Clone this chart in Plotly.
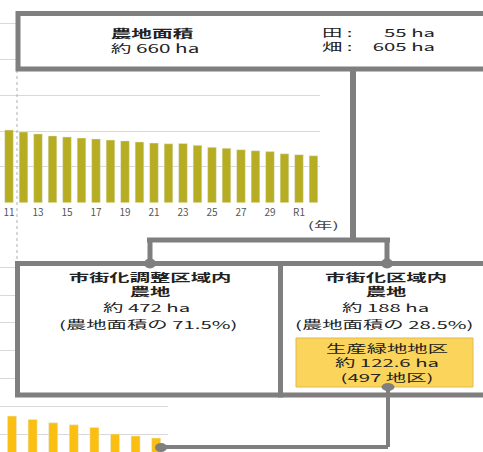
import plotly.graph_objects as go

W, H = 483, 452

# ---------------- data ----------------
years = [str(y) for y in range(10, 31)] + ["R1", "R2"]
farmland_ha = [817, 806, 795, 784, 773, 767, 761, 756, 750, 745, 739, 733,
               729, 731, 720, 709, 704, 696, 690, 685, 673, 668, 662]
year_ticks = ["11", "13", "15", "17", "19", "21", "23", "25", "27", "29", "R1"]

green_years = ["H25", "H26", "H27", "H28", "H29", "H30", "R1", "R2"]
green_ha = [132.9, 130.5, 128.1, 126.6, 124.7, 120.0, 118.6, 117.1]

top_title = "農地面積"
top_total = "約 660 ha"
crop_labels = ["田 :", "畑 :"]
crop_values = ["55 ha", "605 ha"]
left_title = ["市街化調整区域内", "農地"]
left_lines = ["約 472 ha", "(農地面積の 71.5%)"]
right_title = ["市街化区域内", "農地"]
right_lines = ["約 188 ha", "(農地面積の 28.5%)"]
green_lines = ["生産緑地地区", "約 122.6 ha", "(497 地区)"]
year_unit = "(年)"

# ---------------- helpers ----------------
def X(px):
    return px / W

def Y(py):
    return 1 - py / H

GRAY = "#7f7f7f"
FONT = "Noto Sans CJK JP"

fig = go.Figure()
fig.add_trace(go.Bar(x=years, y=farmland_ha, marker_color="#b7ad22",
                     width=0.6, xaxis="x", yaxis="y", showlegend=False))
fig.add_trace(go.Bar(x=green_years, y=green_ha, marker_color="#fbbf12",
                     width=0.44, xaxis="x2", yaxis="y2", showlegend=False))

shapes = []

def line(x0, y0, x1, y1, w=5, color=GRAY, dash="solid"):
    shapes.append(dict(type="line", xref="paper", yref="paper",
                       x0=X(x0), y0=Y(y0), x1=X(x1), y1=Y(y1),
                       line=dict(color=color, width=w, dash=dash)))

def rect(x0, y0, x1, y1, w=5, color=GRAY, fill="white"):
    shapes.append(dict(type="rect", xref="paper", yref="paper",
                       x0=X(x0), y0=Y(y0), x1=X(x1), y1=Y(y1),
                       line=dict(color=color, width=w), fillcolor=fill))

def dot(cx, cy, rx=6, ry=5):
    shapes.append(dict(type="circle", xref="paper", yref="paper",
                       x0=X(cx - rx), y0=Y(cy + ry), x1=X(cx + rx), y1=Y(cy - ry),
                       line=dict(color=GRAY, width=0), fillcolor=GRAY))

# dotted guide
line(17, 70, 17, 262, w=1, color="#b0b0b0", dash="dot")
# top box
rect(18, 13.5, 500, 69)
# connectors
line(353, 69, 353, 240, w=6)
line(147, 240, 390, 240, w=5)
line(150, 240, 150, 263)
line(387, 240, 387, 263)
# lower boxes
rect(17.5, 263.5, 280.5, 395)
rect(280.5, 263.5, 500, 395)
dot(150, 263.5)
dot(387, 263.5)
# yellow box
rect(296, 338, 473, 387, w=1, color="#e2b94c", fill="#fbd55b")
line(388, 387, 388, 447, w=4)
line(388, 447, 160, 447, w=4)
dot(388, 387, 6.5, 4)
dot(161, 447.5, 6, 4.5)

annotations = []

def txt(s, cx, cy, size=11, align="center", color="#222222"):
    annotations.append(dict(text=s, x=X(cx), y=Y(cy), xref="paper", yref="paper",
                            xanchor="center", yanchor="middle", showarrow=False,
                            align=align, borderpad=0,
                            font=dict(family=FONT, size=size, color=color)))

txt("<b>%s</b><br>%s" % (top_title, top_total), 155, 40, size=11.2, align="left")
txt("<br>".join(crop_labels), 337, 39, size=11)
txt("<br>".join(crop_values), 404, 39, size=11, align="right")

txt("<br>".join("<b>%s</b>" % s for s in left_title), 150, 284)
txt(left_lines[0], 146, 306.5)
txt(left_lines[1], 147.5, 324)

txt("<br>".join("<b>%s</b>" % s for s in right_title), 386, 284)
txt(right_lines[0], 385, 306.5)
txt(right_lines[1], 384, 324)

txt("<br>".join(green_lines), 387, 362.5)

txt(year_unit, 323, 224, size=10, color="#444444")

fig.update_layout(
    width=W, height=H,
    margin=dict(l=0, r=0, t=0, b=0),
    paper_bgcolor="white", plot_bgcolor="white",
    showlegend=False,
    shapes=shapes,
    annotations=annotations,
    xaxis=dict(domain=[0, 320 / W], type="category", range=[0.379, 22.45],
               tickmode="array", tickvals=year_ticks, ticktext=year_ticks,
               showgrid=False, showline=False, zeroline=False, ticks="",
               ticklabelstandoff=2,
               tickfont=dict(family=FONT, size=10, color="#555555"),
               anchor="y", fixedrange=True),
    yaxis=dict(domain=[Y(202.5), Y(10)], range=[400, 1478], tick0=400, dtick=200,
               showticklabels=False, gridcolor="#d9d9d9", gridwidth=1,
               zeroline=False, showline=False, anchor="x"),
    xaxis2=dict(domain=[0, 168 / W], type="category", range=[-0.583, 7.573],
                showticklabels=False, showgrid=False, showline=False,
                zeroline=False, ticks="", anchor="y2"),
    yaxis2=dict(domain=[0, Y(260)], range=[107.05, 245.2], tick0=0, dtick=20,
                showticklabels=False, gridcolor="#d9d9d9", gridwidth=1,
                zeroline=False, showline=False, anchor="x2"),
)

post = """
var gd = document.getElementById('{plot_id}');
var SX = 1.85;
gd.querySelectorAll('.annotation text.annotation-text').forEach(function(t){
  var bb = t.getBBox();
  var cx = bb.x + bb.width / 2;
  t.setAttribute('transform', 'translate(' + cx + ',0) scale(' + SX + ',1) translate(' + (-cx) + ',0)');
});
"""

fig.write_html("out.html", post_script=post)
